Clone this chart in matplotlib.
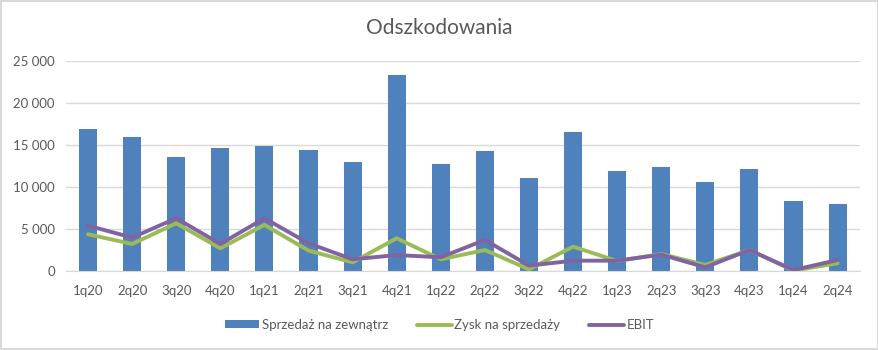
import matplotlib
matplotlib.use("Agg")
import matplotlib.pyplot as plt
from matplotlib.ticker import FuncFormatter
import numpy as np

plt.rcParams['font.family'] = ['Lato', 'DejaVu Sans']

categories = ["1q20", "2q20", "3q20", "4q20", "1q21", "2q21", "3q21", "4q21", "1q22",
              "2q22", "3q22", "4q22", "1q23", "2q23", "3q23", "4q23", "1q24", "2q24"]
sprzedaz = [16950, 16000, 13600, 14670, 14900, 14430, 13000, 23370, 12760,
            14310, 11090, 16580, 11930, 12400, 10610, 12160, 8350, 7990]
zysk = [4370, 3220, 5680, 2700, 5490, 2430, 1030, 3900, 1390,
        2500, 200, 2900, 1190, 2030, 720, 2500, 50, 920]
ebit = [5400, 3980, 6280, 3220, 6280, 3300, 1390, 1900, 1630,
        3700, 640, 1230, 1230, 1950, 440, 2500, 120, 1310]
yticks = [0, 5000, 10000, 15000, 20000, 25000]

fig = plt.figure(figsize=(8.79, 3.5), dpi=100)
fig.patch.set_facecolor("white")
fig.patch.set_edgecolor("#d9d9d9")
fig.patch.set_linewidth(1.5)
ax = fig.add_axes([0.0751, 0.2257, 0.978 - 0.0751, 0.60])

x = np.arange(len(categories))
b = ax.bar(x, sprzedaz, width=0.41, color="#4f81bd", label="Sprzedaż na zewnątrz", zorder=2)
l1, = ax.plot(x, zysk, color="#9bbb59", lw=2.8, label="Zysk na sprzedaży", zorder=3,
              solid_joinstyle="round", solid_capstyle="round")
l2, = ax.plot(x, ebit, color="#8064a2", lw=2.8, label="EBIT", zorder=4,
              solid_joinstyle="round", solid_capstyle="round")

ax.set_xlim(-0.5, len(categories) - 0.5)
ax.set_ylim(0, 25000)
ax.set_yticks(yticks)
ax.yaxis.set_major_formatter(FuncFormatter(lambda v, p: f"{int(v):,}".replace(",", " ")))
ax.set_xticks(x)
ax.set_xticklabels(categories)
ax.grid(axis="y", color="#d9d9d9", lw=1, zorder=0)
ax.set_axisbelow(True)
for s in ["top", "right", "left"]:
    ax.spines[s].set_visible(False)
ax.spines["bottom"].set_color("#d9d9d9")
ax.tick_params(axis="both", length=0, labelsize=9.5, colors="#595959")
ax.tick_params(axis="x", pad=10)
ax.tick_params(axis="y", pad=8)

fig.text(0.5, 0.92, "Odszkodowania", ha="center", va="center", fontsize=15, color="#595959")

leg = fig.legend([b, l1, l2], ["Sprzedaż na zewnątrz", "Zysk na sprzedaży", "EBIT"],
                 loc="center", bbox_to_anchor=(0.5, 0.072), ncol=3, frameon=False,
                 fontsize=9.5, handlelength=2.6, handleheight=0.5, handletextpad=0.2,
                 columnspacing=2.2)
for t in leg.get_texts():
    t.set_color("#595959")

fig.savefig("out.png", dpi=100, facecolor=fig.get_facecolor(), edgecolor=fig.get_edgecolor())
